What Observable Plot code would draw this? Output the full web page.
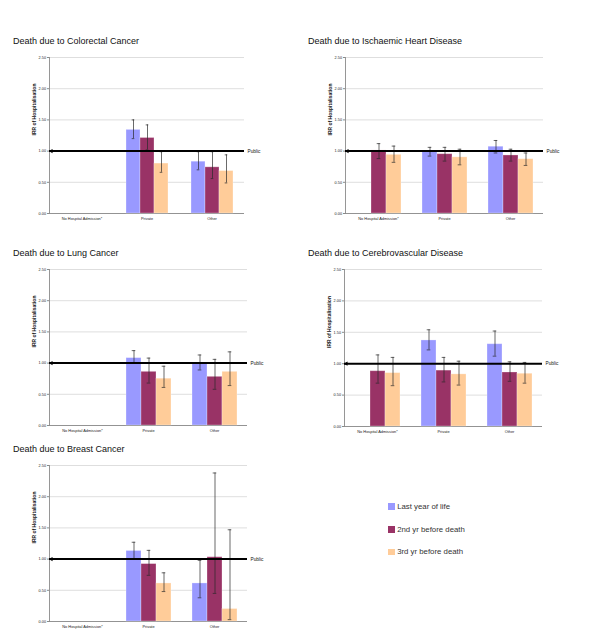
<!DOCTYPE html>
<html>
<head>
<meta charset="utf-8">
<script src="https://cdn.jsdelivr.net/npm/d3@7"></script>
<script src="https://cdn.jsdelivr.net/npm/@observablehq/plot@0.6"></script>
<style>
  html, body { margin: 0; padding: 0; background: #fff; }
  #root { position: relative; width: 600px; height: 639px; background: #fff; overflow: hidden; font-family: "Liberation Sans", Arial, Helvetica, sans-serif; }
  .title { position: absolute; font-size: 9px; line-height: 9px; color: #111; white-space: nowrap; }
  .legend { position: absolute; left: 388px; top: 503px; font-size: 7.8px; color: #333; }
  .legend .row { display: flex; align-items: center; height: 7px; margin-bottom: 15.7px; white-space: nowrap; }
  .legend .sw { width: 6.7px; height: 6.7px; margin-right: 2.5px; }
  svg { position: absolute; overflow: visible; }
</style>
</head>
<body>
<div id="root"></div>
<script>
// ---- data ----
const categories = ["No Hospital Admission*", "Private", "Other"];
const series = ["Last year of life", "2nd yr before death", "3rd yr before death"];
const seriesColors = ["#9999ff", "#993366", "#ffcc99"];
const yTicks = [0, 0.5, 1, 1.5, 2, 2.5];
const yLabel = "IRR of Hospitalisation";
const referenceValue = 1;
const referenceLabel = "Public";

const titles = [
  "Death due to Colorectal Cancer",
  "Death due to Ischaemic Heart Disease",
  "Death due to Lung Cancer",
  "Death due to Cerebrovascular Disease",
  "Death due to Breast Cancer"
];

// values ordered category x series (No Hospital: 3, Private: 3, Other: 3)
const colorectalIRR = [null, null, null, 1.34, 1.21, 0.80, 0.83, 0.74, 0.68];
const colorectalLo  = [null, null, null, 1.20, 1.02, 0.66, 0.70, 0.56, 0.49];
const colorectalHi  = [null, null, null, 1.50, 1.42, 0.99, 0.99, 0.99, 0.94];

const ihdIRR = [null, 1.01, 0.94, 0.99, 0.95, 0.90, 1.07, 0.93, 0.87];
const ihdLo  = [null, 0.88, 0.82, 0.92, 0.84, 0.78, 0.97, 0.84, 0.77];
const ihdHi  = [null, 1.12, 1.08, 1.06, 1.06, 1.03, 1.17, 1.03, 0.97];

const lungIRR = [null, null, null, 1.08, 0.86, 0.75, 1.00, 0.78, 0.86];
const lungLo  = [null, null, null, 1.00, 0.68, 0.61, 0.89, 0.58, 0.64];
const lungHi  = [null, null, null, 1.20, 1.08, 0.95, 1.13, 1.06, 1.18];

const cerebroIRR = [null, 0.88, 0.85, 1.37, 0.89, 0.83, 1.31, 0.86, 0.84];
const cerebroLo  = [null, 0.69, 0.65, 1.22, 0.71, 0.66, 1.12, 0.72, 0.69];
const cerebroHi  = [null, 1.14, 1.10, 1.54, 1.10, 1.04, 1.52, 1.03, 1.02];

const breastIRR = [null, null, null, 1.13, 0.92, 0.61, 0.61, 1.03, 0.20];
const breastLo  = [null, null, null, 1.00, 0.74, 0.48, 0.38, 0.45, 0.03];
const breastHi  = [null, null, null, 1.27, 1.14, 0.78, 0.98, 2.38, 1.47];

// ---- layout (plot frames in page pixels) ----
const panels = [
  {irr: colorectalIRR, lo: colorectalLo, hi: colorectalHi, x0: 48,  x1: 244, y0: 57,  y1: 213, tx: 13},
  {irr: ihdIRR,        lo: ihdLo,        hi: ihdHi,        x0: 344, x1: 543, y0: 57,  y1: 213, tx: 308},
  {irr: lungIRR,       lo: lungLo,       hi: lungHi,       x0: 48,  x1: 248, y0: 269, y1: 425, tx: 13},
  {irr: cerebroIRR,    lo: cerebroLo,    hi: cerebroHi,    x0: 343, x1: 543, y0: 269, y1: 426, tx: 308},
  {irr: breastIRR,     lo: breastLo,     hi: breastHi,     x0: 48,  x1: 248, y0: 465, y1: 621, tx: 13}
];

const root = document.getElementById("root");
const ML = 48, MR = 40, MT = 10, MB = 16;

function buildRows(irr, lo, hi) {
  const rows = [];
  categories.forEach((c, i) => series.forEach((s, j) => {
    const k = i * series.length + j;
    if (irr[k] != null) rows.push({category: c, series: s, irr: irr[k], lo: lo[k], hi: hi[k]});
  }));
  return rows;
}

panels.forEach((p, idx) => {
  const rows = buildRows(p.irr, p.lo, p.hi);
  const errStyle = {fx: "category", x: "series", stroke: "#2a2a2a", strokeWidth: 0.7};
  const firstRef = [{category: categories[0], v: referenceValue}];
  const lastRef = [{category: categories[categories.length - 1], v: referenceValue}];
  const chart = Plot.plot({
    width: (p.x1 - p.x0) + ML + MR,
    height: (p.y1 - p.y0) + MT + MB,
    marginLeft: ML, marginRight: MR, marginTop: MT, marginBottom: MB,
    style: {fontFamily: "Liberation Sans, Arial, sans-serif", background: "transparent", color: "#222"},
    fx: {domain: categories, padding: 0, label: null},
    x: {domain: series, paddingInner: 0, paddingOuter: 0.68, axis: null},
    y: {domain: [0, 2.5], label: null},
    color: {domain: series, range: seriesColors},
    marks: [
      Plot.gridY(yTicks, {stroke: "#d6d6d6", strokeOpacity: 1, strokeWidth: 0.8}),
      Plot.ruleY([0], {stroke: "#8a8a8a", strokeWidth: 0.9}),
      Plot.frame({anchor: "left", stroke: "#8a8a8a", strokeWidth: 0.9, facet: "super"}),
      Plot.axisY(yTicks, {tickFormat: d3.format(".2f"), tickSize: 2, tickPadding: 1.5, fontSize: 3.8, stroke: "#8a8a8a", label: null}),
      Plot.axisFx({anchor: "bottom", tickSize: 0, tickPadding: 4, fontSize: 3.9, label: null}),
      Plot.barY(rows, {fx: "category", x: "series", y: "irr", fill: "series", stroke: "#fff", strokeOpacity: 0.35, strokeWidth: 0.8}),
      Plot.ruleX(rows, {...errStyle, y1: "lo", y2: "hi"}),
      Plot.tickY(rows, {...errStyle, y: "lo", insetLeft: 5.7, insetRight: 5.7}),
      Plot.tickY(rows, {...errStyle, y: "hi", insetLeft: 5.7, insetRight: 5.7}),
      Plot.ruleY([referenceValue], {stroke: "#000", strokeWidth: 2}),
      Plot.dot(firstRef, {fx: "category", y: "v", frameAnchor: "left", dx: 1.8, symbol: "triangle", rotate: -90, r: 1.6, fill: "#000", stroke: null}),
      Plot.text(lastRef, {fx: "category", y: "v", text: () => referenceLabel, frameAnchor: "right", textAnchor: "start", dx: 3, fontSize: 4.7, fill: "#111"}),
      Plot.text([yLabel], {frameAnchor: "left", rotate: -90, dx: -15.5, fontSize: 5, fontWeight: "bold", fill: "#111", facet: "super"})
    ]
  });
  chart.style.left = (p.x0 - ML) + "px";
  chart.style.top = (p.y0 - MT) + "px";
  root.appendChild(chart);

  const t = document.createElement("div");
  t.className = "title";
  t.textContent = titles[idx];
  t.style.left = p.tx + "px";
  t.style.top = (p.y0 - 12.5 - 7.6) + "px";
  root.appendChild(t);
});

// legend
const legend = document.createElement("div");
legend.className = "legend";
series.forEach((s, i) => {
  const row = document.createElement("div");
  row.className = "row";
  const sw = document.createElement("div");
  sw.className = "sw";
  sw.style.background = seriesColors[i];
  const lab = document.createElement("span");
  lab.textContent = s;
  row.appendChild(sw);
  row.appendChild(lab);
  legend.appendChild(row);
});
root.appendChild(legend);
</script>
</body>
</html>
